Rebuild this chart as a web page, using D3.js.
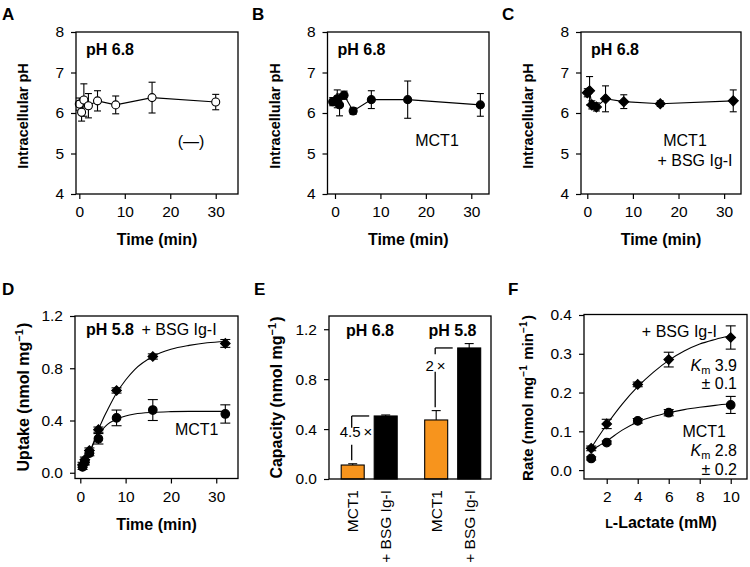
<!DOCTYPE html>
<html>
<head>
<meta charset="utf-8">
<script src="https://cdn.jsdelivr.net/npm/d3@7"></script>
<style>
  body { margin: 0; background: #fff; }
  svg { font-family: "Liberation Sans", Arial, sans-serif; }
</style>
</head>
<body>
<svg id="fig" width="750" height="567"></svg>
<script>
// ---- DATA ----
// A-C: intracellular pH at pH 6.8
var timeA = [0, 0.5, 1, 2, 4, 8, 16, 30];
var phA = [6.22, 6.02, 6.32, 6.18, 6.30, 6.20, 6.38, 6.27];
var errA = [0.15, 0.22, 0.40, 0.30, 0.25, 0.22, 0.38, 0.19];

var timeB = [-0.5, 0.5, 1, 2, 4, 8, 16, 32];
var phB = [6.28, 6.35, 6.20, 6.44, 6.05, 6.33, 6.33, 6.20];
var errB = [0.10, 0.22, 0.27, 0.10, 0.08, 0.22, 0.46, 0.28];

var timeC = [0, 0.5, 1, 2, 4, 8, 16, 32];
var phC = [6.50, 6.55, 6.20, 6.15, 6.35, 6.28, 6.23, 6.30];
var errC = [0.10, 0.35, 0.10, 0.10, 0.32, 0.17, 0.07, 0.27];

// D: uptake at pH 5.8
var timeD = [0.5, 1, 2, 4, 8, 16, 32];
var uptakeBSG = [0.06, 0.10, 0.17, 0.33, 0.63, 0.89, 0.99];
var errUptakeBSG = [0.02, 0.02, 0.02, 0.02, 0.02, 0.02, 0.03];
var uptakeMCT1 = [0.045, 0.08, 0.15, 0.26, 0.42, 0.48, 0.45];
var errUptakeMCT1 = [0.02, 0.02, 0.02, 0.04, 0.06, 0.08, 0.07];
var fitTimeD = [0.5, 1, 2, 3, 4, 5, 6, 8, 10, 12, 16, 20, 24, 28, 32];
var fitUptakeBSG = [0.05, 0.08, 0.15, 0.24, 0.33, 0.41, 0.48, 0.61, 0.71, 0.79, 0.89, 0.945, 0.975, 0.995, 1.005];
var fitUptakeMCT1 = [0.045, 0.075, 0.15, 0.23, 0.29, 0.335, 0.37, 0.41, 0.435, 0.45, 0.463, 0.468, 0.47, 0.47, 0.47];

// E: capacity
var capGroups = ["pH 6.8", "pH 5.8"];
var capLabels = ["MCT1", "+ BSG Ig-I"];
var capValues = [[0.112, 0.505], [0.473, 1.05]];
var capErrors = [[0.01, 0.008], [0.075, 0.035]];
var capFolds = ["4.5\u2009\u00d7", "2\u2009\u00d7"];

// F: rate vs L-lactate
var lactate = [1, 2, 4, 6, 10];
var rateBSG = [0.056, 0.119, 0.221, 0.285, 0.342];
var errRateBSG = [0.006, 0.012, 0.006, 0.019, 0.03];
var rateMCT1 = [0.030, 0.071, 0.127, 0.148, 0.168];
var errRateMCT1 = [0.004, 0.004, 0.006, 0.008, 0.022];
var fitLactate = [0.95, 1.5, 2, 3, 4, 5, 6, 7, 8, 9, 10];
var fitRateBSG = [0.054, 0.088, 0.117, 0.17, 0.215, 0.252, 0.283, 0.307, 0.325, 0.337, 0.347];
var fitRateMCT1 = [0.05, 0.063, 0.075, 0.103, 0.124, 0.138, 0.148, 0.156, 0.162, 0.167, 0.171];

var svg = d3.select("#fig");
var orange = "#f7941d";

function zip(xs, ys, es) {
    return xs.map(function (x, i) { return { x: x, y: ys[i], e: es ? es[i] : 0 }; });
}

// frame + scales + axes for one panel
function panel(f, xDomain, yDomain, xTicks, yTicks, yFmt) {
    var x = d3.scaleLinear().domain(xDomain).range([f.left, f.right]);
    var y = d3.scaleLinear().domain(yDomain).range([f.bottom, f.top]);
    var g = svg.append("g");
    if (xTicks) {
        g.append("g")
            .attr("transform", "translate(0," + f.bottom + ")")
            .call(d3.axisBottom(x).tickValues(xTicks).tickSize(5).tickPadding(7))
            .call(function (a) { a.select(".domain").remove(); })
            .selectAll("text").attr("font-size", 15.5).attr("font-family", null);
    }
    g.append("g")
        .attr("transform", "translate(" + f.left + ",0)")
        .call(d3.axisLeft(y).tickValues(yTicks).tickSize(5).tickPadding(7).tickFormat(d3.format(yFmt)))
        .call(function (a) { a.select(".domain").remove(); })
        .selectAll("text").attr("font-size", 15.5).attr("font-family", null);
    g.selectAll(".tick line").attr("stroke-width", 1.2);
    return { g: g, x: x, y: y, f: f };
}

function frame(p) {
    p.g.append("rect")
        .attr("x", p.f.left).attr("y", p.f.top)
        .attr("width", p.f.right - p.f.left).attr("height", p.f.bottom - p.f.top)
        .attr("fill", "none").attr("stroke", "#000").attr("stroke-width", 1.3);
}

function errorBars(p, data, cap) {
    var eg = p.g.append("g").attr("stroke", "#000").attr("stroke-width", 1.1);
    data.forEach(function (d) {
        var cx = p.x(d.x);
        eg.append("line").attr("x1", cx).attr("x2", cx).attr("y1", p.y(d.y - d.e)).attr("y2", p.y(d.y + d.e));
        [d.y - d.e, d.y + d.e].forEach(function (v) {
            eg.append("line").attr("x1", cx - cap).attr("x2", cx + cap).attr("y1", p.y(v)).attr("y2", p.y(v));
        });
    });
}

function connect(p, data, curve) {
    p.g.append("path")
        .datum(data)
        .attr("fill", "none").attr("stroke", "#000").attr("stroke-width", 1.1)
        .attr("d", d3.line().curve(curve || d3.curveLinear)
            .x(function (d) { return p.x(d.x); })
            .y(function (d) { return p.y(d.y); }));
}

function markers(p, data, shape, fill, r) {
    var sym = shape === "diamond"
        ? d3.symbol(d3.symbolSquare, 2 * r * r)
        : d3.symbol(d3.symbolCircle, Math.PI * r * r);
    p.g.selectAll(null)
        .data(data)
        .enter().append("path")
        .attr("d", sym)
        .attr("transform", function (d) {
            return "translate(" + p.x(d.x) + "," + p.y(d.y) + ")" + (shape === "diamond" ? " rotate(45)" : "");
        })
        .attr("fill", fill).attr("stroke", "#000").attr("stroke-width", 1.1);
}

function label(txt, x, y, opts) {
    opts = opts || {};
    return svg.append("text")
        .attr("x", x).attr("y", y)
        .attr("font-size", opts.size || 16)
        .attr("font-weight", opts.bold ? "bold" : null)
        .attr("text-anchor", opts.anchor || "start")
        .text(txt);
}

// rotated y title; parts are plain strings or {up: "..."} superscripts
function yTitle(x, y, parts, size) {
    size = size || 16;
    var t = svg.append("text")
        .attr("transform", "translate(" + x + "," + y + ") rotate(-90)")
        .attr("text-anchor", "middle")
        .attr("font-size", size).attr("font-weight", "bold");
    parts.forEach(function (s) {
        if (typeof s === "object") {
            t.append("tspan").attr("font-size", size * 0.68).attr("dy", -6).text(s.up);
            t.append("tspan").attr("dy", 6).text("\u200a");
        } else {
            t.append("tspan").text(s);
        }
    });
    return t;
}

// ---- PANELS A-C ----
var pHPanels = [
    { f: { left: 76, right: 238, top: 32, bottom: 194 }, xd: [-0.73, 34.9], t: timeA, v: phA, e: errA, shape: "circle", fill: "#fff", letter: "A", lx: 2 },
    { f: { left: 327.5, right: 489, top: 32, bottom: 194 }, xd: [-1.65, 33.9], t: timeB, v: phB, e: errB, shape: "circle", fill: "#000", letter: "B", lx: 252 },
    { f: { left: 581, right: 741, top: 32, bottom: 194 }, xd: [-1.38, 33.7], t: timeC, v: phC, e: errC, shape: "diamond", fill: "#000", letter: "C", lx: 502 }
];

pHPanels.forEach(function (c) {
    var p = panel(c.f, c.xd, [4, 8], [0, 10, 20, 30], [4, 5, 6, 7, 8], "d");
    var data = zip(c.t, c.v, c.e);
    errorBars(p, data, 3.5);
    connect(p, data);
    markers(p, data, c.shape, c.fill, c.shape === "diamond" ? 5 : 4);
    frame(p);
    label(c.letter, c.lx, 20, { size: 17, bold: true });
    label("pH 6.8", c.f.left + 10, 55, { bold: true });
    label("Time (min)", (c.f.left + c.f.right) / 2, 245, { bold: true, anchor: "middle" });
    yTitle(c.f.left - 48, (c.f.top + c.f.bottom) / 2 + 3, ["Intracellular pH"], 14.5);
});
label("(\u2014)", 191, 147, { anchor: "middle" });
label("MCT1", 437, 146, { anchor: "middle" });
label("MCT1", 685, 146, { anchor: "middle" });
label("+ BSG Ig-I", 695, 166, { anchor: "middle" });

// ---- PANEL D ----
var pD = panel({ left: 75, right: 238, top: 316, bottom: 478.5 }, [-1.17, 34.8], [-0.044, 1.2],
    [0, 10, 20, 30], [0, 0.4, 0.8, 1.2], ".1f");
var dBSG = zip(timeD, uptakeBSG, errUptakeBSG);
var dMCT1 = zip(timeD, uptakeMCT1, errUptakeMCT1);
connect(pD, zip(fitTimeD, fitUptakeBSG), d3.curveMonotoneX);
connect(pD, zip(fitTimeD, fitUptakeMCT1), d3.curveMonotoneX);
errorBars(pD, dBSG, 5);
errorBars(pD, dMCT1, 5);
markers(pD, dMCT1, "circle", "#000", 4.3);
markers(pD, dBSG, "diamond", "#000", 4.8);
frame(pD);
label("D", 2, 295, { size: 17, bold: true });
label("pH 5.8", 86, 335, { bold: true });
label("+ BSG Ig-I", 141.5, 335);
label("MCT1", 218.5, 435, { anchor: "end" });
label("Time (min)", 156.5, 530, { bold: true, anchor: "middle" });
yTitle(29, 397, ["Uptake (nmol mg", { up: "\u22121" }, ")"]);

// ---- PANEL E ----
var fE = { left: 329, right: 491, top: 316, bottom: 479 };
var slot = d3.scaleLinear().domain([0, 1]).range([352.7, 385.7]);
var yE = d3.scaleLinear().domain([0, 1.306]).range([fE.bottom, fE.top]);
var pE = panel(fE, [0, 1], [0, 1.306], null, [0, 0.4, 0.8, 1.2], ".1f");
var barW = 23;
var bars = [];
capGroups.forEach(function (grp, gi) {
    capLabels.forEach(function (lab, li) {
        bars.push({ gi: gi, li: li, s: gi * 2.53 + li, v: capValues[gi][li], e: capErrors[gi][li], lab: lab });
    });
});
var eb = pE.g.append("g").attr("stroke", "#000").attr("stroke-width", 1.1);
bars.forEach(function (b) {
    var cx = slot(b.s);
    eb.append("line").attr("x1", cx).attr("x2", cx).attr("y1", yE(b.v)).attr("y2", yE(b.v + b.e));
    eb.append("line").attr("x1", cx - 4.5).attr("x2", cx + 4.5).attr("y1", yE(b.v + b.e)).attr("y2", yE(b.v + b.e));
});
pE.g.selectAll(null)
    .data(bars)
    .enter().append("rect")
    .attr("x", function (b) { return slot(b.s) - barW / 2; })
    .attr("y", function (b) { return yE(b.v); })
    .attr("width", barW)
    .attr("height", function (b) { return yE(0) - yE(b.v); })
    .attr("fill", function (b) { return b.li === 0 ? orange : "#000"; })
    .attr("stroke", "#000").attr("stroke-width", 1.1);
frame(pE);

// fold-change brackets
var brackets = [
    { gi: 0, from: 0.15, tx: 356, ty: 437, gap: [0.275, 0.41] },
    { gi: 1, from: 0.575, tx: 435.5, ty: 371, gap: [0.86, 1.0] }
];
brackets.forEach(function (br, i) {
    var cx = slot(br.gi * 2.53) - 1;
    var top = capValues[br.gi][1];
    var bx = slot(br.gi * 2.53 + 1) - barW / 2 - 5;
    var bg = pE.g.append("g").attr("stroke", "#000").attr("stroke-width", 1.3).attr("fill", "none");
    bg.append("line").attr("x1", cx).attr("x2", cx).attr("y1", yE(br.from)).attr("y2", yE(br.gap[0]));
    bg.append("line").attr("x1", cx).attr("x2", cx).attr("y1", yE(br.gap[1])).attr("y2", yE(top));
    bg.append("line").attr("x1", cx).attr("x2", bx).attr("y1", yE(top)).attr("y2", yE(top));
    label(capFolds[i], br.tx, br.ty, { size: 15, anchor: "middle" });
});
label("pH 6.8", 346, 336, { bold: true });
label("pH 5.8", 428.5, 336, { bold: true });
bars.forEach(function (b) {
    svg.append("text")
        .attr("transform", "translate(" + (slot(b.s) + 5.5) + ",490) rotate(-90)")
        .attr("text-anchor", "end")
        .attr("font-size", 15.5)
        .text(b.lab);
});
label("E", 254, 295, { size: 17, bold: true });
yTitle(282, 397.5, ["Capacity (nmol mg", { up: "\u22121" }, ")"]);

// ---- PANEL F ----
var pF = panel({ left: 584, right: 747, top: 314.5, bottom: 479 }, [0.535, 11.05], [-0.023, 0.4013],
    [2, 4, 6, 8, 10], [0, 0.1, 0.2, 0.3, 0.4], ".1f");
var fBSG = zip(lactate, rateBSG, errRateBSG);
var fMCT1 = zip(lactate, rateMCT1, errRateMCT1);
connect(pF, zip(fitLactate, fitRateBSG), d3.curveMonotoneX);
connect(pF, zip(fitLactate, fitRateMCT1), d3.curveMonotoneX);
errorBars(pF, fBSG, 5);
errorBars(pF, fMCT1, 5);
markers(pF, fMCT1, "circle", "#000", 4.3);
markers(pF, fBSG, "diamond", "#000", 4.8);
frame(pF);
label("F", 508, 295, { size: 17, bold: true });
label("+ BSG Ig-I", 717, 336.5, { anchor: "end" });
function km(x, y, val) {
    var t = svg.append("text").attr("x", x).attr("y", y).attr("font-size", 16).attr("text-anchor", "end");
    t.append("tspan").attr("font-style", "italic").text("K");
    t.append("tspan").attr("font-size", 11).attr("dy", 3).text("m");
    t.append("tspan").attr("dy", -3).text(" " + val);
}
km(737, 370.5, "3.9");
label("\u00b1 0.1", 737, 389, { anchor: "end" });
label("MCT1", 726, 436.5, { anchor: "end" });
km(737, 455.5, "2.8");
label("\u00b1 0.2", 737, 475, { anchor: "end" });
var xt = svg.append("text").attr("x", 661).attr("y", 528)
    .attr("text-anchor", "middle").attr("font-size", 16).attr("font-weight", "bold");
xt.append("tspan").attr("font-size", 12.5).text("L");
xt.append("tspan").text("-Lactate (mM)");
yTitle(533, 398, ["Rate (nmol mg", { up: "\u22121" }, " min", { up: "\u22121" }, ")"], 15);
</script>
</body>
</html>
